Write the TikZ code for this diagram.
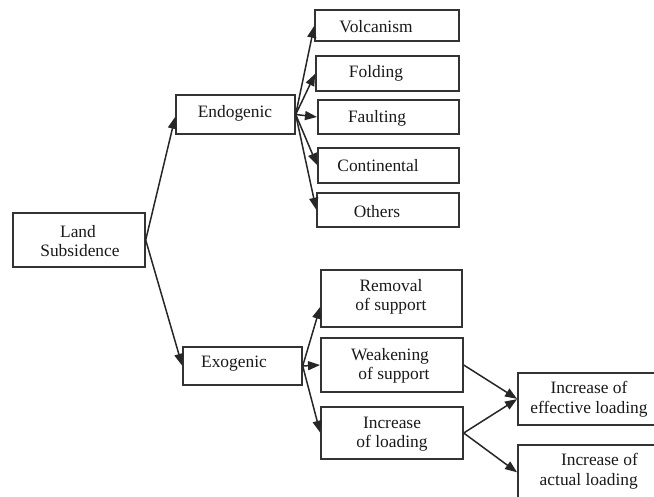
\documentclass[tikz,border=0pt]{standalone}
\usepackage{fontspec}
\setmainfont{Liberation Serif}
\usetikzlibrary{arrows.meta}
\begin{document}
\begin{tikzpicture}[x=1pt,y=-1pt,
  box/.style={draw=black!80, line width=1.4pt, inner sep=0pt, rectangle},
  txt/.style={font=\fontsize{17.4}{19.5}\selectfont, text=black!90, align=center, inner sep=0pt},
  arr/.style={draw=black!85, line width=1.5pt, -{Triangle[length=12pt,width=9pt]}, shorten >=0.3pt}]
\useasboundingbox (0,0) rectangle (654,496);
\clip (0,0) rectangle (654,496);
% boxes
\node[box, minimum width=132pt, minimum height=54pt] (ls) at (79,240) {};
\node[box, minimum width=119pt, minimum height=39pt] (endo) at (235.5,114.5) {};
\node[box, minimum width=119pt, minimum height=38pt] (exo) at (242.5,366) {};
\node[box, minimum width=144pt, minimum height=31pt] (volc) at (387,25.5) {};
\node[box, minimum width=143pt, minimum height=35pt] (fold) at (387.5,73.5) {};
\node[box, minimum width=141pt, minimum height=34pt] (fault) at (388.5,117) {};
\node[box, minimum width=141pt, minimum height=35pt] (cont) at (388.5,165.5) {};
\node[box, minimum width=142pt, minimum height=34pt] (oth) at (388,210) {};
\node[box, minimum width=141pt, minimum height=57pt] (rem) at (391.5,298.5) {};
\node[box, minimum width=142pt, minimum height=54pt] (weak) at (392,365) {};
\node[box, minimum width=142pt, minimum height=52pt] (inc) at (392,433) {};
\node[box, minimum width=142pt, minimum height=52pt] (eff) at (589,399) {};
\node[box, minimum width=142pt, minimum height=55pt] (act) at (589,472.5) {};
% texts
\node[txt] (tls) at (78,241) {Land\\\hspace*{4pt}Subsidence};
\node[txt] (tendo) at (235,113) {Endogenic};
\node[txt] (texo) at (234,364) {Exogenic};
\node[txt] (tvolc) at (376,27) {Volcanism};
\node[txt] (tfold) at (376,73) {Folding};
\node[txt] (tfault) at (377,118) {Faulting};
\node[txt] (tcont) at (378,166) {Continental};
\node[txt] (toth) at (377,212) {Others};
\node[txt] (trem) at (391,297) {Removal\\of support};
\node[txt] (tweak) at (390,366) {Weakening\\\hspace*{8pt}of support};
\node[txt] (tinc) at (392,434) {Increase\\of loading};
\node[txt] (teff) at (589,399) {Increase of\\effective loading};
\node[txt, align=right, anchor=east] (tact) at (638,471) {Increase of\\actual loading};
% arrows
\draw[arr] (ls.east) -- ([yshift=-2pt]endo.west);
\draw[arr] (ls.east) -- (exo.west);
\draw[arr] (endo.east) -- (volc.west);
\draw[arr] (endo.east) -- (fold.west);
\draw[arr] (endo.east) -- (fault.west);
\draw[arr] (endo.east) -- (cont.west);
\draw[arr] (endo.east) -- (oth.west);
\draw[arr] (exo.east) -- ([yshift=-8pt]rem.west);
\draw[arr] (exo.east) -- (weak.west);
\draw[arr] (exo.east) -- (inc.west);
\draw[arr] (weak.east) -- (eff.west);
\draw[arr] (inc.east) -- (eff.west);
\draw[arr] (inc.east) -- (act.west);
\end{tikzpicture}
\end{document}
